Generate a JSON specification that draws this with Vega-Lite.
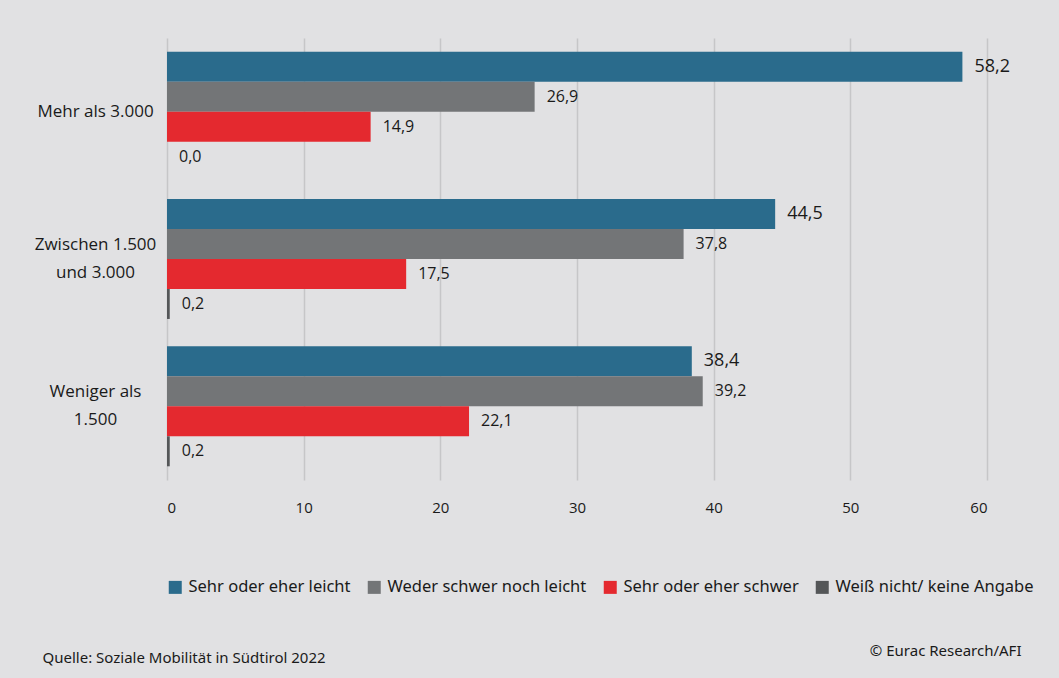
{
  "$schema": "https://vega.github.io/schema/vega-lite/v6.json",
  "width": 820,
  "height": 442,
  "autosize": {"type": "none"},
  "padding": {"left": 167, "top": 38, "right": 72, "bottom": 198},
  "background": "#e1e1e3",
  "config": {
    "view": {"stroke": null},
    "font": "Open Sans",
    "locale": {"number": {"decimal": ",", "thousands": ".", "grouping": [3], "currency": ["", " €"]}}
  },
  "data": {
    "values": [
      {"group": "Mehr als 3.000", "series": "Sehr oder eher leicht", "value": 58.2},
      {"group": "Mehr als 3.000", "series": "Weder schwer noch leicht", "value": 26.9},
      {"group": "Mehr als 3.000", "series": "Sehr oder eher schwer", "value": 14.9},
      {"group": "Mehr als 3.000", "series": "Weiß nicht/ keine Angabe", "value": 0.0},
      {"group": "Zwischen 1.500|und 3.000", "series": "Sehr oder eher leicht", "value": 44.5},
      {"group": "Zwischen 1.500|und 3.000", "series": "Weder schwer noch leicht", "value": 37.8},
      {"group": "Zwischen 1.500|und 3.000", "series": "Sehr oder eher schwer", "value": 17.5},
      {"group": "Zwischen 1.500|und 3.000", "series": "Weiß nicht/ keine Angabe", "value": 0.2},
      {"group": "Weniger als|1.500", "series": "Sehr oder eher leicht", "value": 38.4},
      {"group": "Weniger als|1.500", "series": "Weder schwer noch leicht", "value": 39.2},
      {"group": "Weniger als|1.500", "series": "Sehr oder eher schwer", "value": 22.1},
      {"group": "Weniger als|1.500", "series": "Weiß nicht/ keine Angabe", "value": 0.2}
    ]
  },
  "encoding": {
    "y": {
      "field": "group",
      "type": "nominal",
      "sort": ["Mehr als 3.000", "Zwischen 1.500|und 3.000", "Weniger als|1.500"],
      "scale": {"paddingInner": 0.186, "paddingOuter": 0.093},
      "axis": {
        "title": "© Eurac Research/AFI",
        "titleAngle": 0,
        "titleX": 854,
        "titleY": 612,
        "titleAlign": "right",
        "titleBaseline": "middle",
        "titleFont": "Noto Sans",
        "titleFontSize": 15,
        "titleFontWeight": "normal",
        "titleColor": "#1a1a1a",
        "domain": false,
        "ticks": false,
        "tickSize": 0,
        "grid": false,
        "labelPadding": 72,
        "labelAlign": "center",
        "labelBaseline": "middle",
        "labelFontSize": 17,
        "labelLineHeight": 28,
        "labelColor": "#1a1a1a",
        "labelOffset": {"condition": {"test": "indexof(datum.value, '|') >= 0", "value": -14}, "value": 0},
        "labelExpr": "split(datum.label, '|')"
      }
    },
    "yOffset": {
      "field": "series",
      "sort": ["Sehr oder eher leicht", "Weder schwer noch leicht", "Sehr oder eher schwer", "Weiß nicht/ keine Angabe"],
      "scale": {"paddingInner": 0, "paddingOuter": 0}
    },
    "x": {
      "field": "value",
      "type": "quantitative",
      "scale": {"domain": [0, 60], "nice": false},
      "axis": {
        "title": "Quelle: Soziale Mobilität in Südtirol 2022",
        "titleX": -125,
        "titleY": 177,
        "titleAlign": "left",
        "titleBaseline": "middle",
        "titleFont": "Noto Sans",
        "titleFontSize": 15,
        "titleFontWeight": "normal",
        "titleColor": "#1a1a1a",
        "values": [0, 10, 20, 30, 40, 50, 60],
        "domain": false,
        "ticks": false,
        "tickSize": 0,
        "grid": true,
        "gridColor": "#c6c6c8",
        "gridWidth": 1.5,
        "labelPadding": 20,
        "labelFontSize": 15,
        "labelColor": "#1a1a1a",
        "format": "d"
      }
    }
  },
  "layer": [
    {
      "mark": {"type": "bar"},
      "encoding": {
        "color": {
          "field": "series",
          "type": "nominal",
          "scale": {
            "domain": ["Sehr oder eher leicht", "Weder schwer noch leicht", "Sehr oder eher schwer", "Weiß nicht/ keine Angabe"],
            "range": ["#2a6b8c", "#737577", "#e4292f", "#545658"]
          },
          "legend": {
            "title": null,
            "orient": "none",
            "legendX": 0,
            "legendY": 541,
            "direction": "horizontal",
            "symbolType": "square",
            "symbolSize": 169,
            "symbolStrokeWidth": 0,
            "labelFont": "Noto Sans",
            "labelFontSize": 16.5,
            "labelColor": "#1a1a1a",
            "labelOffset": 5,
            "columnPadding": 15,
            "padding": 0,
            "labelLimit": 400
          }
        }
      }
    },
    {
      "mark": {"type": "text", "align": "left", "baseline": "middle", "dx": 12, "color": "#1a1a1a"},
      "encoding": {
        "text": {"field": "value", "type": "quantitative", "format": ".1f"},
        "size": {
          "condition": {"test": "datum.series === 'Sehr oder eher leicht'", "value": 18},
          "value": 16
        }
      }
    }
  ]
}
